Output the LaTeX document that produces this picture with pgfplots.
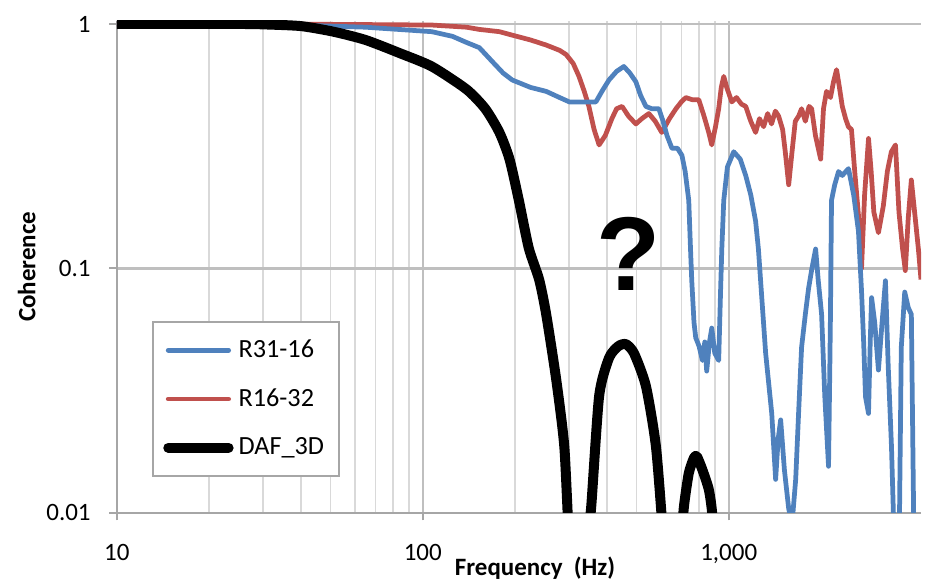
\documentclass[border=0pt]{standalone}
\usepackage{fontspec}
\setmainfont{Carlito}
\newfontfamily\qfont{Liberation Sans}
\usepackage{pgfplots}
\pgfplotsset{compat=1.18}
\definecolor{xlblue}{HTML}{4F81BD}
\definecolor{xlred}{HTML}{C0504D}

\begin{document}
\begin{tikzpicture}
\begin{axis}[
  xmode=log, ymode=log,
  scale only axis,
  width=322pt, height=197pt,
  xmin=10, xmax=4250, ymin=0.01, ymax=1.03,
  axis lines*=left,
  axis line style={-, draw=gray!70, line width=0.8pt},
  xtick={10,100,1000}, xticklabels={10,100,{1,000}},
  ytick={0.01,0.1,1}, yticklabels={0.01,0.1,1},
  xmajorgrids, xminorgrids, ymajorgrids,
  major grid style={gray!50, line width=0.9pt},
  minor grid style={gray!30, line width=0.6pt},
  minor tick length=0pt,
  major tick length=3pt,
  tick align=outside,
  tick style={gray!70, line width=0.8pt},
  ticklabel style={font=\fontsize{10}{12}\selectfont},
  xticklabel style={yshift=-6pt},
  yticklabel style={xshift=-4pt},
  xlabel={\textbf{Frequency\ \ (Hz)}},
  ylabel={\textbf{Coherence}},
  label style={font=\fontsize{10}{12}\selectfont},
  xlabel style={at={(axis description cs:0.52,-0.112)}, anchor=center},
  ylabel style={at={(axis description cs:-0.112,0.5)}, anchor=center},
  legend style={at={(0.044,0.39)}, anchor=north west, draw=gray!70, line width=0.8pt,
    font=\fontsize{10.5}{12}\selectfont, row sep=7pt, inner xsep=4pt, inner ysep=5pt,
    cells={anchor=west}},
  legend cell align=left,
  legend image code/.code={\draw[#1, line cap=round] (0cm,0cm) -- (0.85cm,0cm);},
]
\addlegendimage{xlblue, line width=1.9pt}
\addlegendentry{R31-16}
\addlegendimage{xlred, line width=1.9pt}
\addlegendentry{R16-32}
\addlegendimage{black, line width=4pt}
\addlegendentry{DAF\_3D}

% R16-32
\addplot[xlred, line width=1.9pt, line join=round, forget plot] coordinates {
(10,1) (30,1) (60,0.995) (107,0.99) (139,0.97) (153,0.95) (178,0.93) (196,0.90)
(225,0.86) (253,0.82) (280,0.78) (294,0.75) (310,0.69) (324,0.61) (337,0.53)
(349,0.46) (363,0.37) (377,0.32) (395,0.35) (415,0.41) (430,0.45) (448,0.46)
(470,0.42) (497,0.39) (520,0.41) (548,0.43) (575,0.40) (604,0.36) (640,0.41)
(672,0.45) (700,0.48) (724,0.50) (760,0.49) (798,0.49) (830,0.42) (860,0.36)
(880,0.32) (905,0.38) (927,0.45) (945,0.55) (963,0.61) (985,0.55) (1023,0.48)
(1060,0.50) (1100,0.47) (1136,0.46) (1180,0.40) (1224,0.36) (1260,0.41)
(1300,0.38) (1340,0.43) (1380,0.39) (1420,0.44) (1455,0.42) (1500,0.37)
(1530,0.30) (1570,0.22) (1610,0.30) (1650,0.40) (1692,0.42) (1730,0.45)
(1780,0.40) (1830,0.46) (1866,0.45) (1920,0.35) (1997,0.28) (2040,0.45)
(2087,0.53) (2150,0.50) (2200,0.58) (2251,0.65) (2300,0.55) (2350,0.46)
(2409,0.41) (2460,0.38) (2518,0.37) (2580,0.25) (2654,0.165) (2716,0.10)
(2780,0.20) (2863,0.34) (2920,0.25) (2980,0.17) (3085,0.14) (3200,0.18)
(3300,0.25) (3400,0.30) (3507,0.32) (3600,0.17) (3700,0.12) (3777,0.098)
(3860,0.16) (3952,0.23) (4050,0.17) (4167,0.12) (4250,0.09)
};

% R31-16
\addplot[xlblue, line width=1.9pt, line join=round, forget plot] coordinates {
(10,1) (30,1) (65,0.97) (107,0.93) (125,0.89) (139,0.84) (153,0.80) (169,0.70)
(183,0.63) (196,0.59) (225,0.55) (253,0.53) (280,0.50) (301,0.48) (340,0.48)
(368,0.48) (385,0.53) (406,0.59) (430,0.64) (454,0.67) (475,0.63) (497,0.58)
(515,0.51) (536,0.46) (560,0.45) (591,0.45) (610,0.40) (628,0.35) (652,0.31)
(680,0.31) (703,0.29) (720,0.25) (740,0.19) (750,0.12) (757,0.089) (770,0.06)
(780,0.052) (800,0.048) (820,0.042) (835,0.050) (847,0.038) (865,0.050)
(880,0.057) (900,0.045) (927,0.042) (940,0.08) (949,0.12) (963,0.19)
(990,0.26) (1038,0.30) (1090,0.28) (1136,0.24) (1180,0.20) (1224,0.156)
(1250,0.12) (1282,0.076) (1320,0.045) (1382,0.0255) (1423,0.0137) (1450,0.02)
(1478,0.024) (1520,0.015) (1570,0.0104) (1610,0.009) (1655,0.0137)
(1690,0.025) (1730,0.0476) (1780,0.065) (1824,0.083) (1870,0.10) (1923,0.12)
(1960,0.09) (2011,0.065) (2060,0.03) (2119,0.0155) (2140,0.04) (2150,0.065)
(2167,0.19) (2220,0.22) (2285,0.249) (2350,0.24) (2462,0.256) (2560,0.20)
(2654,0.142) (2716,0.081) (2760,0.05) (2799,0.0298) (2863,0.0255) (2900,0.05)
(2930,0.0759) (3000,0.06) (3085,0.0384) (3170,0.06) (3252,0.089) (3320,0.04)
(3403,0.0187) (3470,0.008) (3532,0.005) (3600,0.006) (3664,0.0476)
(3760,0.08) (3862,0.0691) (3952,0.0648) (4020,0.01) (4074,0.005) (4250,0.005)
};

% DAF_3D
\addplot[black, line width=4pt, line join=round, smooth, tension=0.4, forget plot] coordinates {
(10,1) (25,1) (31,0.995) (40,0.98) (51,0.93) (65,0.86) (84,0.76) (107,0.67)
(139,0.54) (160,0.45) (178,0.36) (192,0.28) (206,0.19) (222,0.121) (240,0.09)
(253,0.065) (273,0.035) (290,0.0187) (300,0.008) (315,0.003) (330,0.003)
(345,0.008) (355,0.0105) (377,0.030) (406,0.043) (435,0.048) (461,0.049)
(490,0.045) (536,0.033) (578,0.0187) (610,0.008) (640,0.003) (690,0.003)
(705,0.008) (713,0.0105) (740,0.0145) (770,0.0168) (787,0.017) (820,0.015)
(860,0.0125) (881,0.0102) (900,0.007) (950,0.003)
};

\node[font=\qfont\bfseries\fontsize{42}{42}\selectfont] at (axis cs:470,0.115) {?};

\coordinate (ll) at (axis cs:10,0.01);
\coordinate (ur) at (axis cs:4250,1);
\end{axis}
\pgfresetboundingbox
\path ([xshift=-46.8pt,yshift=-30pt]ll) rectangle ([xshift=1.6pt,yshift=9.6pt]ur);
\end{tikzpicture}
\end{document}
